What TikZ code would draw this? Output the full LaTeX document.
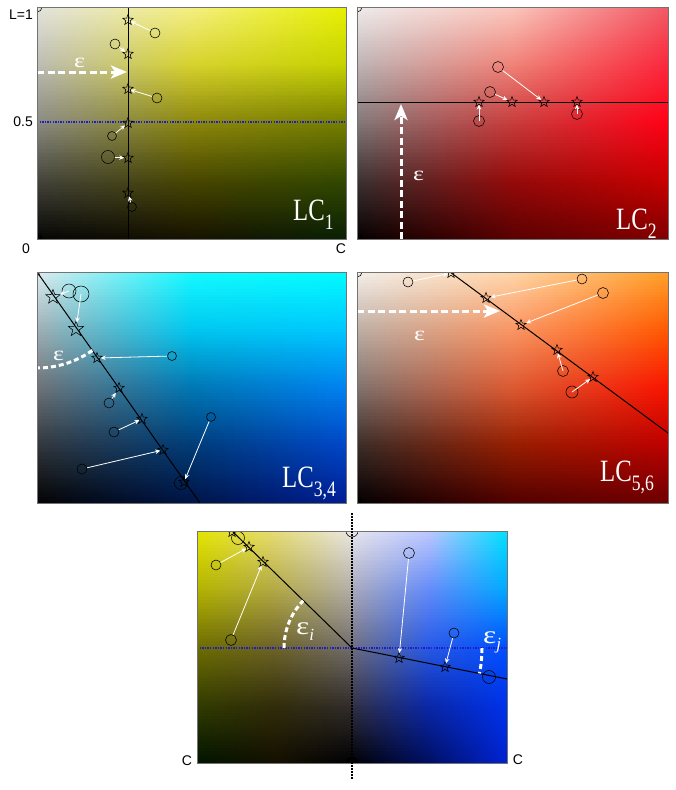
\documentclass[tikz,border=0pt]{standalone}
\usepackage{fontspec}
\usepackage{graphicx}
\newfontfamily\axfont{Liberation Sans}
\newfontfamily\lcfont{Liberation Serif}
\usetikzlibrary{shapes.geometric,arrows.meta}
% rows: t (L=1), q (L=.75), m (L=.5), h (L=.25), b (L=0); columns l, m, r
% panel A (yellow)
\definecolor{patl}{RGB}{228,228,222}\definecolor{patm}{RGB}{245,240,130}\definecolor{patr}{RGB}{232,240,0}
\definecolor{paql}{RGB}{188,188,180}\definecolor{paqm}{RGB}{215,210,45}\definecolor{paqr}{RGB}{198,210,0}
\definecolor{paml}{RGB}{138,138,130}\definecolor{pamm}{RGB}{140,135,12}\definecolor{pamr}{RGB}{118,126,0}
\definecolor{pahl}{RGB}{68,68,60}\definecolor{pahm}{RGB}{72,70,0}\definecolor{pahr}{RGB}{50,72,0}
\definecolor{pabl}{RGB}{5,5,4}\definecolor{pabm}{RGB}{22,18,0}\definecolor{pabr}{RGB}{8,32,4}
% panel B (red)
\definecolor{pbtl}{RGB}{240,236,236}\definecolor{pbtm}{RGB}{250,200,190}\definecolor{pbtr}{RGB}{240,90,100}
\definecolor{pbql}{RGB}{190,180,180}\definecolor{pbqm}{RGB}{240,130,120}\definecolor{pbqr}{RGB}{250,40,60}
\definecolor{pbml}{RGB}{130,120,120}\definecolor{pbmm}{RGB}{200,60,60}\definecolor{pbmr}{RGB}{255,0,22}
\definecolor{pbhl}{RGB}{60,50,50}\definecolor{pbhm}{RGB}{150,10,10}\definecolor{pbhr}{RGB}{200,0,0}
\definecolor{pbbl}{RGB}{5,0,0}\definecolor{pbbm}{RGB}{90,0,0}\definecolor{pbbr}{RGB}{130,0,0}
% panel C (cyan / blue)
\definecolor{pctl}{RGB}{222,236,240}\definecolor{pctm}{RGB}{20,250,255}\definecolor{pctr}{RGB}{0,252,255}
\definecolor{pcql}{RGB}{160,175,180}\definecolor{pcqm}{RGB}{0,200,240}\definecolor{pcqr}{RGB}{0,200,255}
\definecolor{pcml}{RGB}{110,115,120}\definecolor{pcmm}{RGB}{0,120,180}\definecolor{pcmr}{RGB}{0,130,240}
\definecolor{pchl}{RGB}{50,55,60}\definecolor{pchm}{RGB}{0,60,120}\definecolor{pchr}{RGB}{0,70,200}
\definecolor{pcbl}{RGB}{3,3,3}\definecolor{pcbm}{RGB}{0,20,70}\definecolor{pcbr}{RGB}{0,30,150}
% panel D (orange)
\definecolor{pdtl}{RGB}{245,240,235}\definecolor{pdtm}{RGB}{255,215,170}\definecolor{pdtr}{RGB}{255,160,40}
\definecolor{pdql}{RGB}{190,175,165}\definecolor{pdqm}{RGB}{250,150,100}\definecolor{pdqr}{RGB}{255,90,0}
\definecolor{pdml}{RGB}{130,115,110}\definecolor{pdmm}{RGB}{220,90,50}\definecolor{pdmr}{RGB}{250,20,0}
\definecolor{pdhl}{RGB}{60,45,40}\definecolor{pdhm}{RGB}{150,30,0}\definecolor{pdhr}{RGB}{190,0,0}
\definecolor{pdbl}{RGB}{3,0,0}\definecolor{pdbm}{RGB}{80,0,0}\definecolor{pdbr}{RGB}{110,0,0}
% panel E (bottom, left half: yellow edge -> neutral centre)
\definecolor{petl}{RGB}{230,230,0}\definecolor{petm}{RGB}{230,220,120}\definecolor{petr}{RGB}{235,232,228}
\definecolor{peql}{RGB}{180,180,0}\definecolor{peqm}{RGB}{180,170,70}\definecolor{peqr}{RGB}{180,175,170}
\definecolor{peml}{RGB}{110,110,0}\definecolor{pemm}{RGB}{110,100,40}\definecolor{pemr}{RGB}{115,110,110}
\definecolor{pehl}{RGB}{50,60,0}\definecolor{pehm}{RGB}{50,45,10}\definecolor{pehr}{RGB}{50,45,45}
\definecolor{pebl}{RGB}{0,20,0}\definecolor{pebm}{RGB}{20,15,0}\definecolor{pebr}{RGB}{0,0,3}
% panel F (bottom, right half: neutral centre -> blue edge)
\definecolor{pftl}{RGB}{230,230,240}\definecolor{pftm}{RGB}{190,200,255}\definecolor{pftr}{RGB}{0,225,255}
\definecolor{pfql}{RGB}{170,170,190}\definecolor{pfqm}{RGB}{100,140,250}\definecolor{pfqr}{RGB}{0,170,255}
\definecolor{pfml}{RGB}{110,110,130}\definecolor{pfmm}{RGB}{40,90,230}\definecolor{pfmr}{RGB}{0,80,255}
\definecolor{pfhl}{RGB}{50,50,70}\definecolor{pfhm}{RGB}{10,40,170}\definecolor{pfhr}{RGB}{0,50,235}
\definecolor{pfbl}{RGB}{0,0,3}\definecolor{pfbm}{RGB}{0,15,100}\definecolor{pfbr}{RGB}{0,35,210}
\definecolor{dotblue}{RGB}{30,30,200}

\newcommand\lcset[3]{%
  \colorlet{lcl}{#3#1l!\lcp!#3#2l}\colorlet{lcm}{#3#1m!\lcp!#3#2m}\colorlet{lcr}{#3#1r!\lcp!#3#2r}}
\newcommand\lcgrad[5]{%
  \begin{scope}
  \clip (#1,#2) rectangle (#3,#4);
  \pgfmathsetmacro\lcdy{(#4-#2)/80}%
  \foreach \k in {0,...,79}{%
    \pgfmathsetmacro\lcya{#2+\lcdy*\k}%
    \pgfmathsetmacro\lcyb{#2+\lcdy*(\k+1)+0.8}%
    \pgfmathtruncatemacro\lcs{min(3,floor((\k+0.5)/20))}%
    \pgfmathtruncatemacro\lcp{round(100*(\lcs+1-(\k+0.5)/20))}%
    \ifcase\lcs \lcset{t}{q}{#5}\or \lcset{q}{m}{#5}\or \lcset{m}{h}{#5}\or \lcset{h}{b}{#5}\fi
    \shade[left color=lcl, right color=lcr, middle color=lcm] (#1,\lcya) rectangle (#3,\lcyb);
  }%
  \end{scope}}

\begin{document}
\begin{tikzpicture}[x=1pt,y=-1pt,
  circ/.style={circle, draw=black, line width=0.55pt, inner sep=0pt, minimum size=#1},
  circ/.default=10pt,
  strm/.style={star, star points=5, star point ratio=2.4, draw=black, line width=0.55pt, inner sep=0pt, minimum size=#1},
  strm/.default=11pt,
  warr/.style={draw=white, line width=0.8pt, -{Stealth[length=5pt,width=4.5pt]}},
  epsarr/.style={draw=white, line width=3pt, dash pattern=on 7pt off 3.5pt, -{Stealth[length=16pt,width=13pt,inset=4pt]}},
  epsarc/.style={draw=white, line width=3pt, dash pattern=on 5pt off 3pt},
  blkline/.style={draw=black, line width=1pt},
  bluedot/.style={draw=dotblue, line width=1.2pt, dash pattern=on 1.3pt off 1.3pt},
  blackdot/.style={draw=black, line width=1.5pt, dash pattern=on 1.5pt off 1.5pt},
  pframe/.style={draw=black!55, line width=0.5pt},
  axlab/.style={font=\axfont\fontsize{14}{14}\selectfont, inner sep=0pt},
  lctext/.style={text=white, inner sep=0pt, anchor=base west, font=\lcfont\fontsize{31}{31}\selectfont},
  epstext/.style={text=white, inner sep=0pt, anchor=base west, font=\lcfont\fontsize{20}{20}\selectfont}]
\useasboundingbox (0,0) rectangle (675,790);

% ================= Panel 1 : LC1 =================
\lcgrad{37}{7}{346}{239}{pa}
\begin{scope}
  \clip (37,7) rectangle (346,239);
  \coordinate (a-bl) at (37,122); \coordinate (a-br) at (346,122);
  \draw[bluedot] (a-bl) -- (a-br);
  \coordinate (a-lt) at (128,7); \coordinate (a-lb) at (128,239);
  \draw[blkline] (a-lt) -- (a-lb);
  \node[circ] (a-k) at (37,7) {};
  \node[circ, fill=black] (a-d) at (37,239) {};
  \node[strm] (a-s1) at (128,20) {};
  \node[strm] (a-s2) at (128,54) {};
  \node[strm] (a-s3) at (128,89) {};
  \node[strm] (a-s4) at (128,123) {};
  \node[strm] (a-s5) at (128,158) {};
  \node[strm] (a-s6) at (128,193) {};
  \node[circ] (a-c1) at (155,33) {};
  \node[circ] (a-c2) at (115,44) {};
  \node[circ] (a-c3) at (157,98) {};
  \node[circ=9pt] (a-c4) at (112,136) {};
  \node[circ=13pt] (a-c5) at (108,157) {};
  \node[circ=9pt] (a-c6) at (132,207) {};
  \draw[warr] (a-c1) -- (a-s1);
  \draw[warr] (a-c2) -- (a-s2);
  \draw[warr] (a-c3) -- (a-s3);
  \draw[warr] (a-c4) -- (a-s4);
  \draw[warr] (a-c5) -- (a-s5);
  \draw[warr] (a-c6) -- (a-s6);
  \coordinate (a-e0) at (37,72); \coordinate (a-e1) at (127,72);
  \draw[epsarr] (a-e0) -- (a-e1);
\end{scope}
\draw[pframe] (37,7) rectangle (346,239);
\node[epstext] (a-eps) at (74,67) {\scalebox{1.3}[1]{ε}};
\node[lctext] (a-lc) at (293,220) {\scalebox{0.8}[1]{LC\raisebox{-0.3em}{\fontsize{22}{22}\selectfont 1}}};
\node[axlab, anchor=east] (a-L1) at (33,15) {L=1};
\node[axlab, anchor=east] (a-L5) at (33,122) {0.5};
\node[axlab] (a-0) at (26,249) {0};
\node[axlab] (a-C) at (341,249) {C};

% ================= Panel 2 : LC2 =================
\lcgrad{357}{7}{668}{239}{pb}
\begin{scope}
  \clip (357,7) rectangle (668,239);
  \coordinate (b-l0) at (357,102); \coordinate (b-l1) at (668,102);
  \draw[blkline] (b-l0) -- (b-l1);
  \node[circ] (b-k) at (357,7) {};
  \node[circ, fill=black] (b-d) at (357,239) {};
  \node[strm] (b-s1) at (479,102) {};
  \node[strm] (b-s2) at (512,102) {};
  \node[strm] (b-s3) at (544,102) {};
  \node[strm] (b-s4) at (577,102) {};
  \node[circ=11pt] (b-c1) at (498,67) {};
  \node[circ=11pt] (b-c2) at (490,92) {};
  \node[circ=11pt] (b-c3) at (479,121) {};
  \node[circ=11pt] (b-c4) at (577,114) {};
  \draw[warr] (b-c1) -- (b-s3);
  \draw[warr] (b-c2) -- (b-s2);
  \draw[warr] (b-c3.center) -- (b-s1);
  \draw[warr] (b-c4.center) -- (b-s4);
  \coordinate (b-e0) at (401,239); \coordinate (b-e1) at (401,104);
  \draw[epsarr] (b-e0) -- (b-e1);
\end{scope}
\draw[pframe] (357,7) rectangle (668,239);
\node[epstext] (b-eps) at (413,180) {\scalebox{1.3}[1]{ε}};
\node[lctext] (b-lc) at (616,229) {\scalebox{0.8}[1]{LC\raisebox{-0.3em}{\fontsize{22}{22}\selectfont 2}}};

% ================= Panel 3 : LC3,4 =================
\lcgrad{37}{272}{346}{503}{pc}
\begin{scope}
  \clip (37,272) rectangle (346,503);
  \coordinate (c-l0) at (37,272); \coordinate (c-l1) at (200,503);
  \draw[blkline] (c-l0) -- (c-l1);
  \node[strm=9pt] (c-s0) at (37,272) {};
  \node[strm=15pt] (c-s1) at (53,297) {};
  \node[strm=16pt] (c-s2) at (76,329) {};
  \node[strm] (c-s3) at (97,358) {};
  \node[strm] (c-s4) at (119,388) {};
  \node[strm] (c-s5) at (142,419) {};
  \node[strm] (c-s6) at (163,450) {};
  \node[strm] (c-s7) at (184,482) {};
  \node[circ=14pt] (c-c1) at (69,291) {};
  \node[circ=16pt] (c-c2) at (81,294) {};
  \node[circ=9pt] (c-c3) at (172,356) {};
  \node[circ] (c-c4) at (109,403) {};
  \node[circ] (c-c5) at (114,432) {};
  \node[circ] (c-c6) at (82,469) {};
  \node[circ=9pt] (c-c7) at (211,417) {};
  \node[circ=13pt] (c-c8) at (181,483) {};
  \draw[warr] (c-c1.center) -- (c-s1);
  \draw[warr] (c-c2.center) -- (c-s2);
  \draw[warr] (c-c3) -- (c-s3);
  \draw[warr] (c-c4) -- (c-s4);
  \draw[warr] (c-c5) -- (c-s5);
  \draw[warr] (c-c6) -- (c-s6);
  \draw[warr] (c-c7) -- (c-s7);
  \draw[epsarc] plot[domain=54.8:90, samples=24] ({37+96*cos(\x)},{272+96*sin(\x)});
\end{scope}
\draw[pframe] (37,272) rectangle (346,503);
\node[epstext] (c-eps) at (53,360) {\scalebox{1.3}[1]{ε}};
\node[lctext] (c-lc) at (282,487) {\scalebox{0.8}[1]{LC\raisebox{-0.3em}{\fontsize{22}{22}\selectfont 3,4}}};

% ================= Panel 4 : LC5,6 =================
\lcgrad{357}{272}{668}{503}{pd}
\begin{scope}
  \clip (357,272) rectangle (668,503);
  \coordinate (d-l0) at (450,272); \coordinate (d-l1) at (668,433);
  \draw[blkline] (d-l0) -- (d-l1);
  \node[circ] (d-k) at (357,272) {};
  \node[circ, fill=black] (d-d) at (357,503) {};
  \node[strm] (d-s0) at (451,273) {};
  \node[strm] (d-s1) at (486,298) {};
  \node[strm] (d-s2) at (521,325) {};
  \node[strm] (d-s3) at (557,350) {};
  \node[strm] (d-s4) at (593,377) {};
  \node[circ] (d-c0) at (408,282) {};
  \node[circ] (d-c1) at (582,279) {};
  \node[circ=11pt] (d-c2) at (603,293) {};
  \node[circ=11pt] (d-c3) at (563,371) {};
  \node[circ=12pt] (d-c4) at (572,392) {};
  \draw[warr] (d-c0) -- (d-s0);
  \draw[warr] (d-c1) -- (d-s1);
  \draw[warr] (d-c2) -- (d-s2);
  \draw[warr] (d-c3.center) -- (d-s3);
  \draw[warr] (d-c4.center) -- (d-s4);
  \coordinate (d-e0) at (357,311); \coordinate (d-e1) at (500,311);
  \draw[epsarr] (d-e0) -- (d-e1);
\end{scope}
\draw[pframe] (357,272) rectangle (668,503);
\node[epstext] (d-eps) at (414,340) {\scalebox{1.3}[1]{ε}};
\node[lctext] (d-lc) at (600,481) {\scalebox{0.8}[1]{LC\raisebox{-0.3em}{\fontsize{22}{22}\selectfont 5,6}}};

% ================= Panel 5 : two hues =================
\lcgrad{197}{531}{352.5}{763}{pe}
\lcgrad{352}{531}{507}{763}{pf}
\begin{scope}
  \clip (197,531) rectangle (507,763);
  \coordinate (e-bl) at (197,648); \coordinate (e-br) at (507,648);
  \draw[bluedot] (e-bl) -- (e-br);
  \coordinate (e-l0) at (231,530); \coordinate (e-o) at (352,648); \coordinate (e-l1) at (507,679);
  \draw[blkline] (e-l0) -- (e-o) -- (e-l1);
  \node[circ=12pt] (e-top) at (352,531) {};
  \node[circ=12pt, fill=black] (e-bot) at (352,763) {};
  \node[strm] (e-s0) at (232,532) {};
  \node[strm] (e-s1) at (249,547) {};
  \node[strm] (e-s2) at (263,562) {};
  \node[circ=13pt] (e-c0) at (238,538) {};
  \node[circ] (e-c1) at (216,565) {};
  \node[circ=11pt] (e-c2) at (231,640) {};
  \node[strm] (e-s3) at (399,658) {};
  \node[strm] (e-s4) at (445,667) {};
  \node[circ=11pt] (e-c3) at (409,553) {};
  \node[circ] (e-c4) at (454,633) {};
  \node[circ=13pt] (e-c5) at (489,677) {};
  \draw[warr] (e-c1) -- (e-s1);
  \draw[warr] (e-c2) -- (e-s2);
  \draw[warr] (e-c3) -- (e-s3);
  \draw[warr] (e-c4) -- (e-s4);
  \draw[epsarc] plot[domain=180:224, samples=24] ({352+68*cos(\x)},{648+68*sin(\x)});
  \draw[epsarc] plot[domain=0:11.3, samples=12] ({352+130*cos(\x)},{648+130*sin(\x)});
\end{scope}
\draw[pframe] (197,531) rectangle (507,763);
\coordinate (e-v0) at (352,513); \coordinate (e-v1) at (352,779);
\draw[blackdot] (e-v0) -- (e-v1);
\node[epstext, font=\lcfont\fontsize{25}{25}\selectfont] (e-epsi) at (296,634) {\scalebox{1.25}[1]{ε}\raisebox{-0.25em}{\fontsize{17}{17}\selectfont\itshape i}};
\node[epstext, font=\lcfont\fontsize{25}{25}\selectfont] (e-epsj) at (483,643) {\scalebox{1.25}[1]{ε}\raisebox{-0.25em}{\fontsize{17}{17}\selectfont\itshape j}};
\node[axlab] (e-CL) at (187,761) {C};
\node[axlab] (e-CR) at (518,760) {C};
\end{tikzpicture}
\end{document}
